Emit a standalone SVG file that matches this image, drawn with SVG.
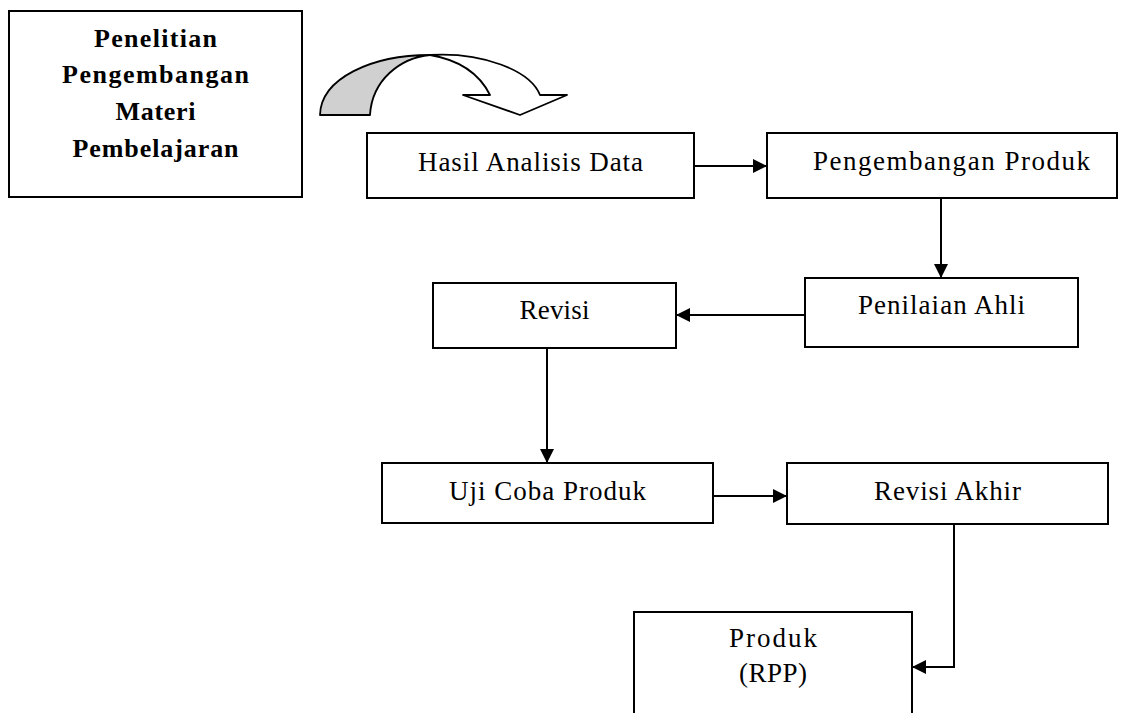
<svg xmlns="http://www.w3.org/2000/svg" width="1127" height="713" viewBox="0 0 1127 713">
<style>
.box{fill:#fff;stroke:#000;stroke-width:2}
.t{font-family:"Liberation Serif","Times New Roman",serif;font-size:27px;fill:#000;text-anchor:middle}
.b{font-family:"Liberation Serif","Times New Roman",serif;font-size:26px;font-weight:bold;fill:#000;text-anchor:middle}
.c{fill:none;stroke:#000;stroke-width:2}
</style>
<defs>
<marker id="ah" markerWidth="14" markerHeight="14" refX="14" refY="7" orient="auto" markerUnits="userSpaceOnUse">
<path d="M0,0 L14,7 L0,14 z" fill="#000"/>
</marker>
</defs>
<rect width="1127" height="713" fill="#fff"/>
<g id="title">
<rect class="box" x="9" y="11" width="293" height="186"/>
<text class="b" x="155.5" y="47" textLength="123">Penelitian</text>
<text class="b" x="155.5" y="83" textLength="187">Pengembangan</text>
<text class="b" x="155.5" y="120" textLength="80">Materi</text>
<text class="b" x="155.5" y="157" textLength="166">Pembelajaran</text>
</g>
<g id="curved-arrow" stroke="#000" stroke-width="1.8" stroke-linejoin="round">
<path d="M320,115 C321,78 372,55 430,55 C400,58 372,80 370,115 Z" fill="#d0d0d0"/>
<path d="M430,55 C482,52 530,70 540,95 L567,95 L520,115 L463,95 L490,95 C480,75 460,60 430,55 Z" fill="#fff"/>
</g>
<g id="hasil">
<rect class="box" x="367" y="133" width="327" height="65"/>
<text class="t" x="530.5" y="171" textLength="225">Hasil Analisis Data</text>
</g>
<g id="pengembangan">
<rect class="box" x="767" y="133" width="350" height="65"/>
<text class="t" x="951.5" y="170" textLength="277">Pengembangan Produk</text>
</g>
<g id="penilaian">
<rect class="box" x="805" y="278" width="273" height="69"/>
<text class="t" x="941.5" y="314" textLength="167">Penilaian Ahli</text>
</g>
<g id="revisi">
<rect class="box" x="433" y="283" width="243" height="65"/>
<text class="t" x="554.5" y="319" textLength="70">Revisi</text>
</g>
<g id="uji">
<rect class="box" x="382" y="463" width="331" height="60"/>
<text class="t" x="547.5" y="500" textLength="197">Uji Coba Produk</text>
</g>
<g id="revisi-akhir">
<rect class="box" x="787" y="463" width="321" height="61"/>
<text class="t" x="947.5" y="500" textLength="147">Revisi Akhir</text>
</g>
<g id="produk">
<rect class="box" x="634" y="612" width="278" height="130"/>
<text class="t" x="773" y="647" textLength="88">Produk</text>
<text class="t" x="773" y="682" textLength="68">(RPP)</text>
</g>
<g id="connectors">
<path class="c" d="M694,166 H767" marker-end="url(#ah)"/>
<path class="c" d="M941,198 V278" marker-end="url(#ah)"/>
<path class="c" d="M805,315 H676" marker-end="url(#ah)"/>
<path class="c" d="M547,348 V463" marker-end="url(#ah)"/>
<path class="c" d="M713,496 H787" marker-end="url(#ah)"/>
<path class="c" d="M954,524 V667 H912" marker-end="url(#ah)"/>
</g>
</svg>
